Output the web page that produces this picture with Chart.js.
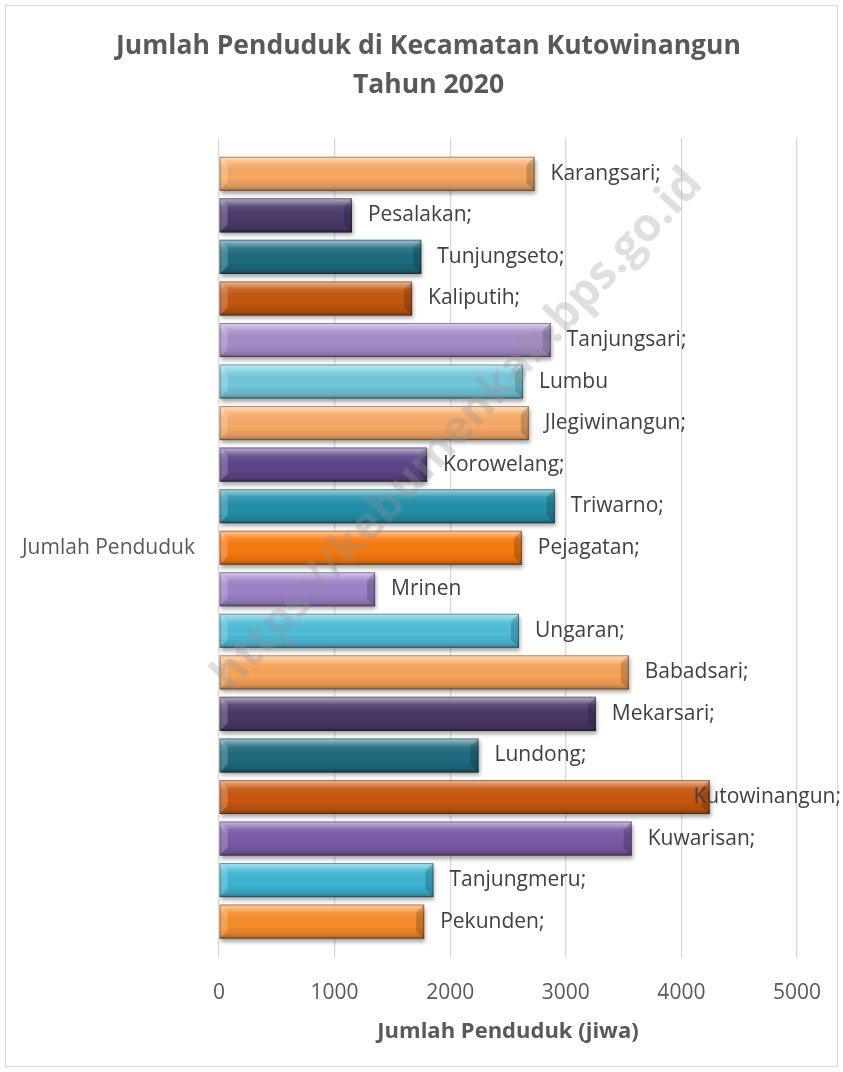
<!DOCTYPE html>
<html>
<head>
<meta charset="utf-8">
<script src="https://cdn.jsdelivr.net/npm/chart.js@4"></script>
<style>
html,body{margin:0;padding:0;background:#fff;}
#wrap{position:relative;width:843px;height:1072px;}
</style>
</head>
<body>
<div id="wrap"><canvas id="c" width="843" height="1072"></canvas></div>
<script>
// ---- data ----
const categories = ['Jumlah Penduduk'];
const villages = ['Karangsari','Pesalakan','Tunjungseto','Kaliputih','Tanjungsari','Lumbu','Jlegiwinangun','Korowelang','Triwarno','Pejagatan','Mrinen','Ungaran','Babadsari','Mekarsari','Lundong','Kutowinangun','Kuwarisan','Tanjungmeru','Pekunden'];
const populations = [2730,1150,1750,1670,2870,2630,2680,1800,2905,2620,1350,2595,3545,3260,2245,4245,3570,1855,1775];
const dataLabels = ['Karangsari;','Pesalakan;','Tunjungseto;','Kaliputih;','Tanjungsari;','Lumbu','Jlegiwinangun;','Korowelang;','Triwarno;','Pejagatan;','Mrinen','Ungaran;','Babadsari;','Mekarsari;','Lundong;','Kutowinangun;','Kuwarisan;','Tanjungmeru;','Pekunden;'];
const xTicks = [0,1000,2000,3000,4000,5000];
const chartTitle = ['Jumlah Penduduk di Kecamatan Kutowinangun','Tahun 2020'];
const xTitle = 'Jumlah Penduduk (jiwa)';
const watermark = 'https://kebumenkab.bps.go.id';

// ---- style ----
const barColors = ['#F6A862','#4B3A6B','#1D6B80','#C4560F','#A68CC8','#72C8DC','#F7AA66','#5F4589','#2490AC','#F97A0E','#9C80C8','#4EBCDA','#F8A458','#4A3868','#1E6A7E','#C9550E','#7B59A8','#3DB5D3','#F68C2A'];
const FONT = '"Open Sans", "DejaVu Sans", sans-serif';
const TXT = '#595959';

const frame = {
  id: 'frame',
  afterLayout(chart) {
    // centre the title on the whole framed chart, as in the reference
    if (chart.titleBlock) { chart.titleBlock.left = 6; chart.titleBlock.right = 851; }
  },
  beforeDraw(chart) {
    const c = chart.ctx;
    c.save();
    c.fillStyle = '#fff';
    c.fillRect(0,0,chart.width,chart.height);
    c.strokeStyle = '#d9d9d9';
    c.lineWidth = 1;
    c.strokeRect(5.5,5.5,chart.width-11,chart.height-11);
    c.restore();
  }
};

const bevel = {
  id: 'bevel',
  beforeDatasetsDraw(chart) {
    const c = chart.ctx;
    c.save();
    c.shadowColor = 'rgba(0,0,0,0.35)';
    c.shadowBlur = 4;
    c.shadowOffsetX = 1;
    c.shadowOffsetY = 3;
  },
  afterDatasetsDraw(chart) {
    const c = chart.ctx;
    c.restore();
    chart.data.datasets.forEach((ds, i) => {
      const meta = chart.getDatasetMeta(i);
      meta.data.forEach(bar => {
        const x0 = Math.min(bar.base, bar.x), x1 = Math.max(bar.base, bar.x);
        const y0 = bar.y - bar.height/2, y1 = bar.y + bar.height/2;
        const h = y1 - y0;
        c.save();
        const g = c.createLinearGradient(0, y0, 0, y1);
        g.addColorStop(0, 'rgba(255,255,255,0.6)');
        g.addColorStop(0.1, 'rgba(255,255,255,0.4)');
        g.addColorStop(0.24, 'rgba(255,255,255,0.1)');
        g.addColorStop(0.6, 'rgba(0,0,0,0)');
        g.addColorStop(0.88, 'rgba(0,0,0,0.12)');
        g.addColorStop(1, 'rgba(0,0,0,0.35)');
        c.fillStyle = g;
        c.fillRect(x0, y0, x1-x0, h);
        const b = 8;
        c.fillStyle = 'rgba(255,255,255,0.2)';
        c.beginPath();
        c.moveTo(x0, y0); c.lineTo(x0+b, y0+b); c.lineTo(x0+b, y1-b); c.lineTo(x0, y1); c.closePath();
        c.fill();
        c.fillStyle = 'rgba(0,0,0,0.18)';
        c.beginPath();
        c.moveTo(x1, y0); c.lineTo(x1-b, y0+b); c.lineTo(x1-b, y1-b); c.lineTo(x1, y1); c.closePath();
        c.fill();
        c.strokeStyle = 'rgba(0,0,0,0.35)';
        c.lineWidth = 1;
        c.strokeRect(x0+0.5, y0+0.5, x1-x0-1, h-1);
        c.restore();
      });
    });
    // watermark
    c.save();
    c.translate(458, 430);
    c.rotate(-47*Math.PI/180);
    c.font = 'bold 46px ' + FONT;
    c.fillStyle = 'rgba(150,150,150,0.3)';
    c.textAlign = 'center';
    c.textBaseline = 'middle';
    c.fillText(watermark, 0, 0);
    c.restore();
    // data labels
    c.save();
    c.font = '21px ' + FONT;
    c.fillStyle = '#404040';
    c.textBaseline = 'middle';
    c.textAlign = 'left';
    chart.data.datasets.forEach((ds, i) => {
      const bar = chart.getDatasetMeta(i).data[0];
      const t = dataLabels[i];
      const w = c.measureText(t).width;
      let x = bar.x + 16;
      if (x + w > 841) x = 841 - w;
      c.fillText(t, x, bar.y);
    });
    c.restore();
  }
};

new Chart(document.getElementById('c'), {
  type: 'bar',
  data: {
    labels: categories,
    datasets: villages.map((v, i) => ({
      label: v,
      data: [populations[i]],
      backgroundColor: barColors[i],
      borderWidth: 0,
      barPercentage: 0.82,
      categoryPercentage: 0.962
    }))
  },
  options: {
    indexAxis: 'y',
    responsive: false,
    animation: false,
    devicePixelRatio: 1,
    layout: { padding: { top: 0, left: 6, right: 46, bottom: 6 } },
    plugins: {
      legend: { display: false },
      tooltip: { enabled: false },
      title: {
        display: true,
        text: chartTitle,
        color: TXT,
        font: { family: FONT, size: 26.5, weight: 'bold', lineHeight: 1.48 },
        padding: { top: 27, bottom: 32 }
      }
    },
    scales: {
      x: {
        type: 'linear',
        min: 0, max: 5000,
        afterBuildTicks(scale) { scale.ticks = xTicks.map(v => ({ value: v })); },
        afterFit(scale) { scale.height = 108; },
        grid: { color: '#d9d9d9', lineWidth: 1.3, drawTicks: false },
        border: { display: false },
        ticks: { color: TXT, font: { family: FONT, size: 21 }, padding: 22, callback: v => String(v) },
        title: { display: true, text: xTitle, color: TXT, font: { family: FONT, size: 22, weight: 'bold' }, padding: { top: 4, bottom: 21 } }
      },
      y: {
        type: 'category',
        afterFit(scale) { scale.width = 213; },
        grid: { display: false, drawTicks: false },
        border: { display: false },
        ticks: { color: TXT, font: { family: FONT, size: 21 }, padding: 24 }
      }
    }
  },
  plugins: [frame, bevel]
});
</script>
</body>
</html>
